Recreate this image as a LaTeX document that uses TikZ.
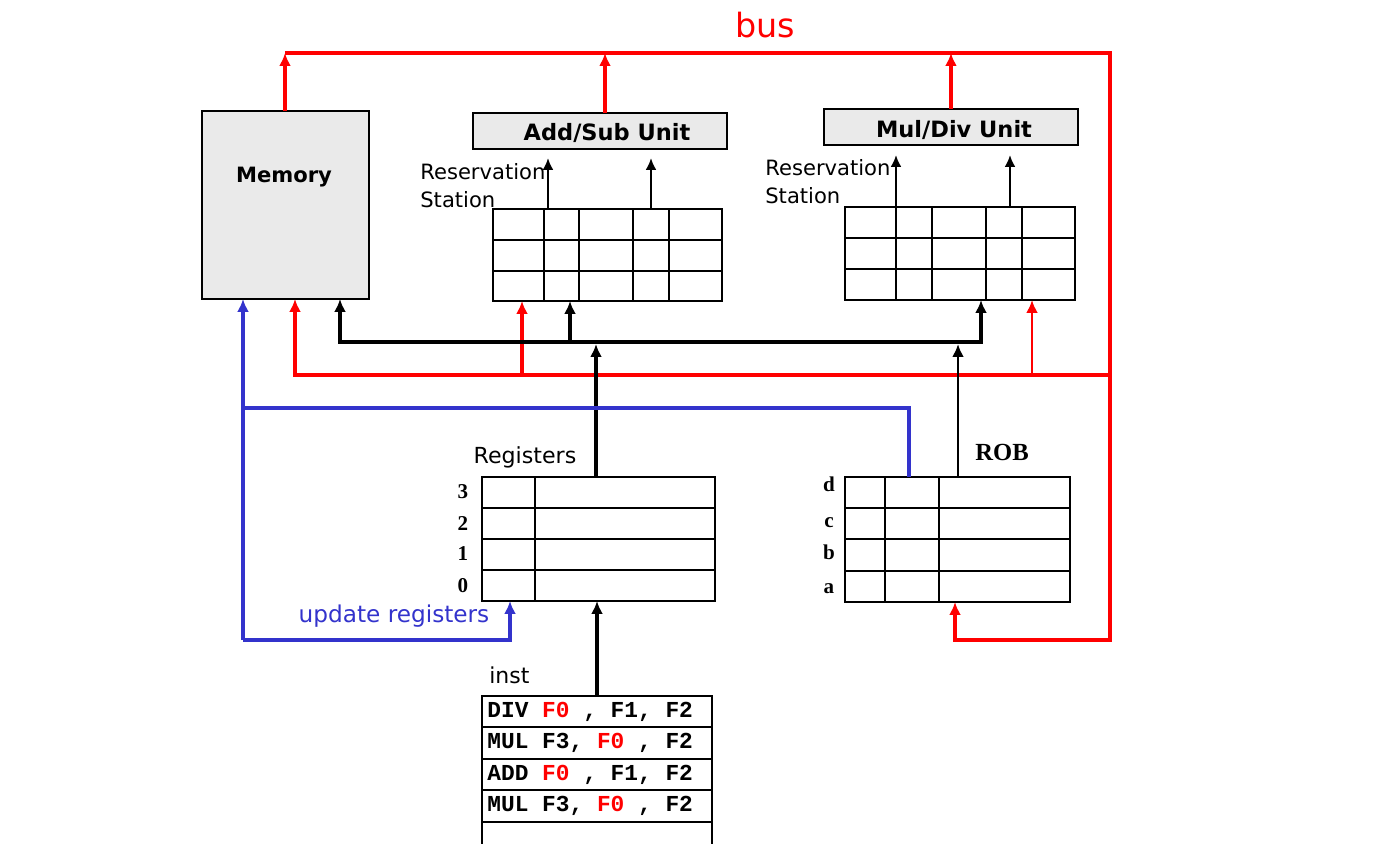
\documentclass[tikz,border=0pt]{standalone}
\usepackage{fontspec}
\setmainfont{DejaVu Sans}
\newfontfamily\serifb{Liberation Serif}
\newfontfamily\instfont{Liberation Mono}
\usetikzlibrary{arrows.meta,positioning}

\definecolor{unitgray}{RGB}{234,234,234}
\definecolor{busred}{RGB}{255,0,0}
\definecolor{regblue}{RGB}{51,51,204}

\tikzset{
  unitbox/.style={draw, fill=unitgray, line width=0.8pt, inner sep=0pt, outer sep=0pt, anchor=north west},
  unitfont/.style={font=\bfseries\fontsize{12.8}{14}\selectfont},
  tbl/.style={draw, line width=1.2pt, inner sep=0pt, outer sep=0pt, anchor=north west},
  gridline/.style={line width=1.2pt},
  txt/.style={font=\fontsize{12}{16}\selectfont, inner sep=0pt},
  idx/.style={font=\serifb\bfseries\fontsize{12}{14}\selectfont, inner sep=0pt, anchor=base},
  insn/.style={font=\instfont\bfseries\fontsize{13}{15}\selectfont, anchor=west, inner sep=0pt},
  redline/.style={draw=busred, line width=2.3pt},
  redthin/.style={draw=busred, line width=1.5pt},
  redtip/.style={-{Latex[length=0.26cm,width=0.24cm]}},
  blkbus/.style={line width=2.4pt},
  blktip/.style={-{Latex[length=0.26cm,width=0.24cm]}},
  thinarr/.style={line width=1.3pt, -{Latex[length=0.24cm,width=0.22cm]}},
  robarr/.style={line width=1.6pt, -{Latex[length=0.26cm,width=0.24cm]}},
  blueline/.style={draw=regblue, line width=2pt},
  bluetip/.style={-{Latex[length=0.26cm,width=0.24cm]}}
}

\begin{document}
\begin{tikzpicture}[x=0.02cm, y=-0.02cm]
\useasboundingbox (0,0) rectangle (1400,844);

% bus label
\node[font=\fontsize{19}{22}\selectfont, text=busred] (buslabel) at (765,25) {bus};
\coordinate (busL) at (285,53);
\coordinate (busR) at (1110,53);

% Memory
\node[unitbox, minimum width=3.34cm, minimum height=3.76cm] (mem) at (202,111) {};
\node[unitfont, font=\bfseries\fontsize{12}{14}\selectfont] (memlabel) at (284,177) {Memory};

% Functional units
\node[unitbox, minimum width=5.08cm, minimum height=0.72cm] (add) at (473,113) {};
\node[unitfont] (addlabel) at (607,133) {Add/Sub Unit};
\node[unitbox, minimum width=5.08cm, minimum height=0.72cm] (mul) at (824,109) {};
\node[unitfont] (mullabel) at (954,130) {Mul/Div Unit};

% Reservation stations
\node[txt, align=left, anchor=west] (rs1label) at (420,186) {Reservation\\Station};
\node[tbl, minimum width=4.58cm, minimum height=1.84cm] (rs1) at (493,209) {};
\foreach \x in {544,579,633,669} \draw[gridline] (\x,209) -- (\x,301);
\foreach \y in {240,271} \draw[gridline] (493,\y) -- (722,\y);

\node[txt, align=left, anchor=west] (rs2label) at (765,182) {Reservation\\Station};
\node[tbl, minimum width=4.6cm, minimum height=1.86cm] (rs2) at (845,207) {};
\foreach \x in {896,932,986,1022} \draw[gridline] (\x,207) -- (\x,300);
\foreach \y in {238,269} \draw[gridline] (845,\y) -- (1075,\y);

% Registers
\node[txt, font=\fontsize{12.6}{16}\selectfont] (regslabel) at (525,457) {Registers};
\node[tbl, minimum width=4.66cm, minimum height=2.48cm] (regs) at (482,477) {};
\draw[gridline] (535,477) -- (535,601);
\foreach \y in {508,539,570} \draw[gridline] (482,\y) -- (715,\y);
\foreach \n/\y in {3/499,2/530,1/561,0/592} \node[idx] (reg\n) at (463,\y) {\n};

% ROB
\node[idx, anchor=center, font=\serifb\bfseries\fontsize{14}{16}\selectfont] (roblabel) at (1002,452) {ROB};
\node[tbl, minimum width=4.5cm, minimum height=2.5cm] (rob) at (845,477) {};
\foreach \x in {885,939} \draw[gridline] (\x,477) -- (\x,602);
\foreach \y in {508,539,571} \draw[gridline] (845,\y) -- (1070,\y);
\foreach \n/\y in {d/492,c/527,b/559,a/593} \node[idx] (rob\n) at (829,\y) {\n};

% Instruction queue
\node[txt, font=\fontsize{12.5}{16}\selectfont, anchor=west] (instlabel) at (489,675) {inst};
\coordinate (insttop) at (597,696);
\draw[gridline] (482,844) -- (482,696) -- (712,696) -- (712,844);
\foreach \y in {727,759,790,822} \draw[gridline] (482,\y) -- (712,\y);
\node[insn] (i1) at (487,712) {DIV {\color{busred}F0} , F1, F2};
\node[insn] (i2) at (487,743) {MUL F3, {\color{busred}F0} , F2};
\node[insn] (i3) at (487,775) {ADD {\color{busred}F0} , F1, F2};
\node[insn] (i4) at (487,806) {MUL F3, {\color{busred}F0} , F2};

% red bus
\draw[redline, redtip] (mem.north -| busL) -- (busL);
\draw[redline, redtip] (add.north -| 605,0) -- (605,53);
\draw[redline, redtip] (mul.north) -- (mul.north |- busL);
\draw[redline, redtip] (busL) -- (busR) -- (1110,640) -- (955,640) -- (rob.south -| 955,0);
\draw[redline, redtip] (1110,375) -- (295,375) -- (mem.south -| 295,0);
\draw[redline, redtip] (522,375) -- (rs1.south -| 522,0);
\draw[redthin, redtip] (1032,375) -- (rs2.south -| 1032,0);

% operand bus
\draw[blkbus, {Latex[length=0.26cm,width=0.24cm]}-{Latex[length=0.26cm,width=0.24cm]}] (mem.south -| 340,0) -- (340,342) -- (981,342) -- (rs2.south -| 981,0);
\draw[blkbus, blktip] (570,342) -- (rs1.south -| 570,0);
\draw[blkbus, blktip] (regs.north -| 596,0) -- (596,344);
\draw[robarr] (rob.north -| 958,0) -- (958,344);
\draw[blkbus, blktip] (insttop) -- (regs.south -| 597,0);

% issue to units
\draw[thinarr, shorten >=0.18cm] (rs1.north -| 548,0) -- (add.south -| 548,0);
\draw[thinarr, shorten >=0.18cm] (rs1.north -| 651,0) -- (add.south -| 651,0);
\draw[thinarr, shorten >=0.2cm] (rs2.north -| 896,0) -- (mul.south -| 896,0);
\draw[thinarr, shorten >=0.2cm] (rs2.north -| 1010,0) -- (mul.south -| 1010,0);

% commit path
\draw[blueline] (rob.north -| 909,0) -- (909,408) -- (243,408);
\draw[blueline, bluetip] (243,640) -- (mem.south -| 243,0);
\draw[blueline, bluetip] (243,640) -- (510,640) -- (regs.south -| 510,0);
\node[txt, font=\fontsize{13.2}{16}\selectfont, text=regblue] (updlabel) at (394,616) {update registers};

\end{tikzpicture}
\end{document}
